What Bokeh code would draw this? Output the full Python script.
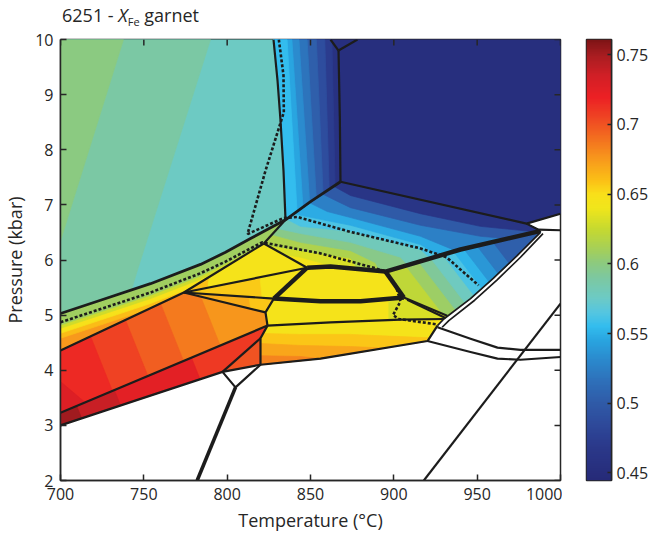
import numpy as np
from bokeh.plotting import figure
from bokeh.models import ColumnDataSource, LinearColorMapper, FixedTicker, Div
from bokeh.layouts import column, row
from bokeh.embed import file_html
from bokeh.resources import INLINE

# ---------------- axes / colour scale ----------------
T_TICKS = [700, 750, 800, 850, 900, 950, 1000]
P_TICKS = [2, 3, 4, 5, 6, 7, 8, 9, 10]
CB_TICKS = [0.45, 0.5, 0.55, 0.6, 0.65, 0.7, 0.75]
CB_LABELS = ["0.45", "0.5", "0.55", "0.6", "0.65", "0.7", "0.75"]
CB_LOW, CB_HIGH = 0.4445, 0.761

CMAP_V = [0.4445, 0.455, 0.47, 0.485, 0.50, 0.515, 0.53, 0.545, 0.555, 0.565, 0.575, 0.59,
          0.60, 0.61, 0.625, 0.64, 0.65, 0.66, 0.675, 0.69, 0.705, 0.72, 0.735, 0.75, 0.761]
CMAP_C = ["#262a78", "#283180", "#2b3a8c", "#2e4a9b", "#2f5ba8", "#2e6fb9", "#2b88cc", "#29a5e0",
          "#33bdee", "#55c6e0", "#6ccac6", "#7dc8a0", "#8cca80", "#a4cf5a", "#c6d930", "#f0e61b",
          "#f9e01a", "#fbc016", "#f89a1c", "#f3701f", "#ef4623", "#ec2024", "#d21f26", "#a91d21",
          "#7e1416"]

# ---------------- phase boundaries (T in degC, P in kbar) ----------------
LINE_MB = ([700, 724, 754, 784, 799, 814, 835, 850, 868], [5.03, 5.27, 5.57, 5.92, 6.14, 6.39, 6.73, 7.06, 7.42])
LINE_S1 = ([827.8, 830.2, 832.0, 833.8, 835.0], [10.0, 9.26, 8.53, 7.62, 6.73])
LINE_S2 = ([866.8, 867.6, 868.0], [9.80, 8.60, 7.42])
LINE_Y1 = ([866.8, 862.0], [9.80, 10.0])
LINE_Y2 = ([866.8, 878.2], [9.80, 10.0])
LINE_BB = ([868, 979.6, 1000], [7.42, 6.66, 6.84])
LINE_TIP = ([979.6, 986.8, 988.0], [6.66, 6.55, 6.50])
LINE_WEDGE = ([986.8, 1000], [6.55, 6.54])
LINE_J1 = ([822, 835], [6.30, 6.73])
LINE_H = ([700, 774, 822], [4.36, 5.41, 6.30])
LINE_J4J2 = ([774, 848], [5.41, 5.86])
LINE_J4J3 = ([774, 828], [5.41, 5.30])
LINE_J4J5 = ([774, 823], [5.41, 5.05])
LINE_J1J2 = ([822, 848], [6.30, 5.86])
LINE_J3J6 = ([828, 823, 824.2], [5.30, 5.05, 4.81])
LINE_LA = ([700, 824.2], [3.23, 4.81])
LINE_J6E = ([824.2, 862, 904, 930], [4.81, 4.87, 4.92, 4.93])
LINE_VERT = ([824.2, 820, 820], [4.81, 4.58, 4.10])
LINE_LB = ([797.2, 820], [3.97, 4.58])
LINE_A = ([700, 748, 797.2, 820, 856, 920.2, 926.2], [3.00, 3.48, 3.97, 4.10, 4.21, 4.53, 4.81])
LINE_Y3 = ([797.2, 805, 820], [3.97, 3.69, 4.10])
LINE_DOWN = ([805, 782], [3.69, 2.0])
LINE_R1 = ([906, 932], [5.32, 4.99])
LINE_R2 = ([908, 931], [5.28, 4.95])
LINE_W1 = ([926.2, 946, 962.2, 976, 1000], [4.78, 4.57, 4.41, 4.37, 4.37])
LINE_W2 = ([920.2, 946, 962.2, 976, 1000], [4.53, 4.33, 4.21, 4.19, 4.24])
LINE_W3 = ([918, 1000], [2.0, 5.21])
LINE_DB1 = ([926.2, 930, 946, 959.8, 974, 988], [4.81, 4.93, 5.30, 5.67, 6.08, 6.50])
LINE_DB2 = ([929, 933, 948.5, 962, 976, 989.5], [4.78, 4.90, 5.27, 5.64, 6.05, 6.48])
LINE_B2 = ([848, 862, 895, 940, 987], [5.86, 5.88, 5.79, 6.19, 6.52])
LINE_T1 = ([848, 828], [5.86, 5.30])
LINE_T2 = ([828, 856, 880, 906], [5.30, 5.25, 5.25, 5.32])
LINE_T3 = ([895, 906], [5.79, 5.32])
LINE_D1 = ([831, 833.8, 834, 823, 812.2, 833.8, 842.2, 874, 916, 931.6, 950.8],
           [10.0, 9.35, 8.68, 7.62, 6.47, 6.76, 6.78, 6.51, 6.21, 6.05, 5.54])
LINE_D2 = ([700, 724, 754, 784, 799, 814, 821, 856, 889, 895, 901, 904, 899.5, 903, 926.2],
           [4.87, 5.11, 5.41, 5.76, 5.97, 6.21, 6.32, 6.12, 5.85, 5.79, 5.55, 5.25, 5.00, 4.93, 4.83])

# ---------------- fields (polygons) and XFe values ----------------
REG_STRIP = [(700, 4.36), (700, 5.03), (724, 5.27), (754, 5.57), (784, 5.92), (799, 6.14), (814, 6.39),
             (835, 6.73), (822, 6.30), (774, 5.41)]
STRIP_BASE = 0.675
STRIP_DEPTH = [0.45, 0.36, 0.27, 0.21]          # kbar below the upper boundary
STRIP_VALS = [0.662, 0.648, 0.628, 0.608]

REG_LB = [(822, 6.30), (835, 6.73), (850, 7.06), (868, 7.42), (979.6, 6.66), (986.8, 6.55), (988, 6.50),
          (940, 6.19), (895, 5.79), (862, 5.88), (848, 5.86)]
LB_BASE = 0.645
LB_C = [
    ([822, 844, 862, 865, 1010], [6.16, 6.05, 5.90, 5.77, 5.0]),
    ([818, 844, 874, 880, 1010], [6.30, 6.17, 6.03, 5.77, 5.0]),
    ([822, 844, 874, 889, 892, 1010], [6.50, 6.32, 6.17, 5.95, 5.77, 5.0]),
    ([826, 844, 874, 904, 910, 1010], [6.60, 6.48, 6.32, 6.05, 5.85, 5.0]),
    ([832, 844, 874, 916, 922, 928, 1010], [6.80, 6.61, 6.52, 6.19, 6.03, 5.88, 5.0]),
    ([835, 844, 874, 916, 928, 940, 1010], [6.90, 6.81, 6.63, 6.28, 6.06, 5.90, 5.0]),
    ([844, 860, 874, 916, 937, 952, 1010], [7.12, 6.88, 6.77, 6.43, 6.17, 6.03, 5.0]),
    ([853, 865, 874, 916, 952, 967, 982, 1010], [7.26, 7.08, 6.95, 6.63, 6.43, 6.39, 6.35, 5.0]),
    ([856, 865, 874, 916, 952, 982, 1000, 1010], [7.48, 7.32, 7.17, 6.84, 6.61, 6.52, 6.43, 5.0]),
]
LB_VALS = [0.632, 0.615, 0.597, 0.58, 0.563, 0.548, 0.525, 0.50, 0.462]

REG_BG = [(827.8, 10), (862, 10), (866.8, 9.80), (868, 7.42), (850, 7.06), (835, 6.73), (833.8, 7.62),
          (832, 8.53), (830.2, 9.26)]
BG_BASE = 0.458
BG_C = [([862.5, 865.4], [10.5, 6.5]), ([858.1, 862.0], [10.5, 6.5]), ([852.8, 858.6], [10.5, 6.5]),
        ([847.0, 854.7], [10.5, 6.5]), ([842.0, 850.7], [10.5, 6.5]), ([837.75, 846.5], [10.5, 6.5]),
        ([835.0, 842.7], [10.5, 6.5])]
BG_VALS = [0.472, 0.488, 0.503, 0.518, 0.532, 0.545, 0.555]

REG_GL = [(700, 10), (827.8, 10), (830.2, 9.26), (832, 8.53), (833.8, 7.62), (835, 6.73), (814, 6.39),
          (799, 6.14), (784, 5.92), (754, 5.57), (724, 5.27), (700, 5.03)]
GL_BASE = 0.576
GL_C = [([792, 790, 746, 742, 740], [11, 10, 5.8, 5.4, 4.5]), ([741, 737.8, 700, 690], [11, 10, 6.35, 5.4])]
GL_VALS = [0.588, 0.600]

REG_NAVY = [(862, 10), (1000, 10), (1000, 6.84), (979.6, 6.66), (868, 7.42), (866.8, 9.80)]
NAVY_VAL = 0.452

REG_YT = [(774, 5.41), (822, 6.30), (848, 5.86)]
YT_BASE, YT_C, YT_VALS = 0.645, [([792, 786], [6.5, 5.0])], [0.66]
REG_T2 = [(774, 5.41), (848, 5.86), (828, 5.30)]
T2_BASE, T2_C, T2_VALS = 0.656, [([818, 822], [6.2, 5.0])], [0.646]
REG_T3 = [(774, 5.41), (828, 5.30), (823, 5.05)]
T3_BASE, T3_C, T3_VALS = 0.668, [([812, 815], [5.6, 4.9])], [0.658]
REG_CY = [(848, 5.86), (862, 5.88), (895, 5.79), (906, 5.32), (880, 5.25), (856, 5.25), (828, 5.30)]
CY_BASE = 0.645
REG_CY2 = [(828, 5.30), (856, 5.25), (880, 5.25), (906, 5.32), (932, 4.99), (930, 4.93), (904, 4.92),
           (862, 4.87), (824.2, 4.81), (823, 5.05)]
CY2_BASE, CY2_C, CY2_VALS = 0.645, [([897, 897], [5.6, 4.8])], [0.632]

REG_RIGHT = [(895, 5.79), (940, 6.19), (988, 6.50), (974, 6.08), (959.8, 5.67), (946, 5.30), (932, 4.99),
             (906, 5.32)]
RIGHT_BASE = 0.622
RIGHT_C = [([888.5, 943.9], [6.63, 4.45]), ([898.1, 953.4], [6.63, 4.45]), ([906.9, 962.3], [6.63, 4.45]),
           ([915.7, 971.1], [6.63, 4.45]), ([923.7, 979.1], [6.63, 4.45]), ([931.1, 986.4], [6.63, 4.45]),
           ([940.4, 995.7], [6.63, 4.45]), ([951.8, 1006.7], [6.63, 4.45])]
RIGHT_VALS = [0.607, 0.592, 0.577, 0.563, 0.552, 0.538, 0.522, 0.503]

REG_OR = [(700, 3.23), (700, 4.36), (774, 5.41), (823, 5.05), (824.2, 4.81)]
OR_BASE = 0.676
OR_C = [([780.2, 816.2], [5.63, 2.91]), ([754.5, 790.5], [5.63, 2.91]), ([729.5, 765.5], [5.63, 2.91]),
        ([704.6, 740.6], [5.63, 2.91]), ([690, 724, 735], [4.05, 3.18, 2.9])]
OR_VALS = [0.686, 0.696, 0.706, 0.716, 0.728]

REG_BOT = [(700, 3.0), (748, 3.48), (797.2, 3.97), (820, 4.58), (824.2, 4.81), (700, 3.23)]
BOT_BASE = 0.71
BOT_C = [([760, 796], [5.63, 2.91]), ([706, 742], [5.63, 2.91]), ([679.6, 715.6], [5.63, 2.91])]
BOT_VALS = [0.724, 0.738, 0.752]

REG_TRI = [(797.2, 3.97), (820, 4.10), (820, 4.58)]
TRI_VAL = 0.70

REG_LM1 = [(820, 4.10), (856, 4.21), (920.2, 4.53), (926.2, 4.81), (930, 4.93), (904, 4.92), (862, 4.87),
           (824.2, 4.81), (820, 4.58)]
LM1_BASE = 0.645
LM1_C = [([810, 817, 844, 874, 904, 928, 940], [4.68, 4.67, 4.65, 4.65, 4.61, 4.58, 4.56]),
         ([810, 844, 874, 904, 922, 940], [4.50, 4.45, 4.43, 4.39, 4.36, 4.33]),
         ([810, 844, 862, 880], [4.27, 4.25, 4.19, 4.10])]
LM1_VALS = [0.658, 0.670, 0.682]


# ---------------- geometry helpers ----------------
def hull(pts):
    pts = sorted(set(pts))

    def cr(o, a, b):
        return (a[0] - o[0]) * (b[1] - o[1]) - (a[1] - o[1]) * (b[0] - o[0])
    lo, up = [], []
    for q in pts:
        while len(lo) >= 2 and cr(lo[-2], lo[-1], q) <= 0:
            lo.pop()
        lo.append(q)
    for q in reversed(pts):
        while len(up) >= 2 and cr(up[-2], up[-1], q) <= 0:
            up.pop()
        up.append(q)
    return lo[:-1] + up[:-1]


def clip(subject, clipper):
    out = list(subject)
    n = len(clipper)
    for i in range(n):
        a, b = clipper[i], clipper[(i + 1) % n]
        inp, out = out, []
        if not inp:
            break

        def inside(q):
            return (b[0] - a[0]) * (q[1] - a[1]) - (b[1] - a[1]) * (q[0] - a[0]) >= 0

        def inter(p1, p2):
            x1, y1 = p1
            x2, y2 = p2
            x3, y3 = a
            x4, y4 = b
            den = (x1 - x2) * (y3 - y4) - (y1 - y2) * (x3 - x4)
            t = ((x1 - x3) * (y3 - y4) - (y1 - y3) * (x3 - x4)) / den
            return (x1 + t * (x2 - x1), y1 + t * (y2 - y1))
        s = inp[-1]
        for e in inp:
            if inside(e):
                if not inside(s):
                    out.append(inter(s, e))
                out.append(e)
            elif inside(s):
                out.append(inter(s, e))
            s = e
    return out


def side(line, where):
    T, P = line
    pts = list(zip(T, P))
    if where == "left":
        pts += [(600, P[-1]), (600, P[0])]
    elif where == "right":
        pts += [(1100, P[-1]), (1100, P[0])]
    elif where == "above":
        pts += [(T[-1], 12), (T[0], 12)]
    else:
        pts += [(T[-1], 0), (T[0], 0)]
    return pts


XS, YS, VS = [], [], []


def add(poly, v):
    XS.append([q[0] for q in poly])
    YS.append([q[1] for q in poly])
    VS.append(v)


def region(poly, base, lines=(), where="left", vals=()):
    add(poly, base)
    H = hull(poly)
    for ln, v in zip(lines, vals):
        c = clip(side(ln, where), H)
        if len(c) >= 3:
            add(c, v)


# ---------------- fills, in painting order ----------------
add(REG_STRIP, STRIP_BASE)
mb = [(t, p) for t, p in zip(*LINE_MB) if t <= 835]
for d, v in zip(STRIP_DEPTH, STRIP_VALS):
    add(mb + [(t, p - d) for t, p in reversed(mb)], v)
region(REG_LB, LB_BASE, LB_C, "above", LB_VALS)
region(REG_BG, BG_BASE, BG_C, "left", BG_VALS)
region(REG_GL, GL_BASE, GL_C, "left", GL_VALS)
add(REG_NAVY, NAVY_VAL)
region(REG_YT, YT_BASE, YT_C, "left", YT_VALS)
region(REG_T2, T2_BASE, T2_C, "right", T2_VALS)
region(REG_T3, T3_BASE, T3_C, "right", T3_VALS)
add(REG_CY, CY_BASE)
region(REG_CY2, CY2_BASE, CY2_C, "right", CY2_VALS)
region(REG_RIGHT, RIGHT_BASE, RIGHT_C, "right", RIGHT_VALS)
region(REG_OR, OR_BASE, OR_C, "left", OR_VALS)
region(REG_BOT, BOT_BASE, BOT_C, "left", BOT_VALS)
add(REG_TRI, TRI_VAL)
region(REG_LM1, LM1_BASE, LM1_C, "below", LM1_VALS)

# ---------------- palette ----------------
def _rgb(h):
    return np.array([int(h[i:i + 2], 16) for i in (1, 3, 5)], float)


palette = []
for i in range(256):
    v = CB_LOW + (CB_HIGH - CB_LOW) * i / 255
    j = max(0, min(len(CMAP_V) - 2, int(np.searchsorted(CMAP_V, v) - 1)))
    t = (v - CMAP_V[j]) / (CMAP_V[j + 1] - CMAP_V[j])
    t = min(max(t, 0), 1)
    c = _rgb(CMAP_C[j]) * (1 - t) + _rgb(CMAP_C[j + 1]) * t
    palette.append("#%02x%02x%02x" % tuple(int(round(x)) for x in c))

mapper = LinearColorMapper(palette=palette, low=CB_LOW, high=CB_HIGH)
INK = "#262626"
LC = "#1c1c1c"
TOP = 12     # border above the frame inside each figure

# ---------------- main figure ----------------
p = figure(width=562, height=501 + TOP, x_range=(700, 1000), y_range=(2, 10), output_backend="svg",
           toolbar_location=None, min_border_left=60, min_border_right=2, min_border_top=TOP,
           min_border_bottom=60)
p.grid.visible = False
p.outline_line_color = INK
p.outline_line_width = 1.5

src = ColumnDataSource(dict(xs=XS, ys=YS, v=VS))
p.patches("xs", "ys", source=src, fill_color={"field": "v", "transform": mapper},
          line_color={"field": "v", "transform": mapper}, line_width=0.7)

for ln in [LINE_S1, LINE_S2, LINE_Y1, LINE_Y2, LINE_BB, LINE_TIP, LINE_WEDGE, LINE_J1, LINE_H,
           LINE_J4J2, LINE_J4J3, LINE_J4J5, LINE_J1J2, LINE_J3J6, LINE_LA, LINE_J6E, LINE_VERT, LINE_LB,
           LINE_A, LINE_Y3, LINE_R1, LINE_R2, LINE_W1, LINE_W2, LINE_W3]:
    p.line(ln[0], ln[1], line_color=LC, line_width=2.2, line_join="round")
p.line(LINE_MB[0], LINE_MB[1], line_color=LC, line_width=2.8, line_join="round")
for ln in [LINE_DB1, LINE_DB2]:
    p.line(ln[0], ln[1], line_color=LC, line_width=1.7)
for ln in [LINE_B2, LINE_T1, LINE_T2, LINE_T3]:
    p.line(ln[0], ln[1], line_color=LC, line_width=4.5, line_join="round")
p.line(LINE_DOWN[0], LINE_DOWN[1], line_color=LC, line_width=3.6)
for ln in [LINE_D1, LINE_D2]:
    p.line(ln[0], ln[1], line_color=LC, line_width=2.6, line_dash="3 2")

# inward ticks on the top and right frame edges
nT, nP = len(T_TICKS), len(P_TICKS)
p.segment(x0=T_TICKS, y0=[10] * nT, x1=T_TICKS, y1=[10 - 0.11] * nT, line_color=INK, line_width=1.5)
p.segment(x0=[1000] * nP, y0=P_TICKS, x1=[1000 - 3.6] * nP, y1=P_TICKS, line_color=INK, line_width=1.5)

for ax in (p.xaxis[0], p.yaxis[0]):
    ax.axis_line_color = INK
    ax.axis_line_width = 1.5
    ax.major_tick_line_color = INK
    ax.major_tick_line_width = 1.5
    ax.major_tick_in = 6
    ax.major_tick_out = 0
    ax.minor_tick_line_color = None
    ax.major_label_text_font = "Open Sans"
    ax.major_label_text_font_size = "16px"
    ax.major_label_text_color = INK
    ax.major_label_standoff = 7
    ax.axis_label_text_font = "Open Sans"
    ax.axis_label_text_font_size = "18px"
    ax.axis_label_text_font_style = "normal"
    ax.axis_label_text_color = INK
    ax.axis_label_standoff = 5
p.xaxis.ticker = FixedTicker(ticks=T_TICKS)
p.yaxis.ticker = FixedTicker(ticks=P_TICKS)
p.xaxis.axis_label = "Temperature (°C)"
p.yaxis.axis_label = "Pressure (kbar)"

# ---------------- colour bar (its own small figure) ----------------
cbf = figure(width=89, height=501 + TOP, x_range=(0, 1), y_range=(CB_LOW, CB_HIGH), output_backend="svg",
             toolbar_location=None, y_axis_location="right", min_border_left=24, min_border_right=40,
             min_border_top=TOP, min_border_bottom=60)
cbf.grid.visible = False
cbf.xaxis.visible = False
cbf.outline_line_color = INK
cbf.outline_line_width = 1.5
cbf.image(image=[np.linspace(CB_LOW, CB_HIGH, 256).reshape(256, 1)], x=0, y=CB_LOW, dw=1,
          dh=CB_HIGH - CB_LOW, color_mapper=mapper)
ya = cbf.yaxis[0]
ya.ticker = FixedTicker(ticks=CB_TICKS)
ya.major_label_overrides = dict(zip(CB_TICKS, CB_LABELS))
ya.axis_line_color = INK
ya.axis_line_width = 1.5
ya.major_tick_in = 4
ya.major_tick_out = 0
ya.major_tick_line_color = INK
ya.major_tick_line_width = 1.5
ya.minor_tick_line_color = None
ya.major_label_text_font = "Open Sans"
ya.major_label_text_font_size = "16px"
ya.major_label_text_color = INK
ya.major_label_standoff = 5

# ---------------- title ----------------
title = Div(text='6251 - <i>X</i><span style="font-size:11px; vertical-align:-4px">Fe</span> garnet',
            width=651, height=39 - TOP, margin=(0, 0, 0, 0),
            styles={"font-family": "Open Sans", "font-size": "18px", "color": INK,
                    "padding-left": "62px", "padding-top": "5px", "line-height": "20px"})

layout = column(title, row(p, cbf, spacing=0), spacing=0)
open("out.html", "w").write(file_html(layout, INLINE))
